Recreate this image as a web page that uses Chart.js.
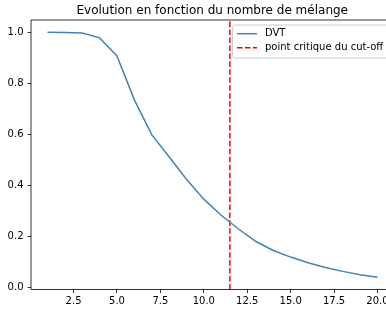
<!DOCTYPE html>
<html><head><meta charset="utf-8">
<script src="https://cdn.jsdelivr.net/npm/chart.js@4/dist/chart.umd.min.js"></script>
<style>
html,body{margin:0;padding:0;background:#fff;overflow:hidden;}
#c{display:block;}
</style></head>
<body>
<canvas id="c" width="386" height="314" style="width:386px;height:314px;"></canvas>
<script>
const titleText = "Evolution en fonction du nombre de mélange";
const xValues = [1,2,3,4,5,6,7,8,9,10,11,12,13,14,15,16,17,18,19,20];
const dvtValues = [1.0,0.999,0.997,0.978,0.907,0.735,0.599,0.512,0.424,0.346,0.283,0.229,0.18,0.145,0.119,0.097,0.078,0.063,0.05,0.04];
const cutoffX = 11.5;
const seriesLabels = ["DVT","point critique du cut-off"];
const xTicks = [2.5,5.0,7.5,10.0,12.5,15.0,17.5,20.0];
const yTicks = [0.0,0.2,0.4,0.6,0.8,1.0];
const xRange = [0.05,20.49];
const yRange = [-0.008,1.048];

const FONT = "'DejaVu Sans', sans-serif";

const spinesLegendTitle = {
  id:'extras',
  beforeDatasetsDraw(chart){
    const ctx = chart.ctx, a = chart.chartArea;
    ctx.save();
    ctx.fillStyle = '#fff';
    ctx.fillRect(a.left + 1, a.top + 1, chart.width - a.left, a.bottom - a.top - 2);
    ctx.restore();
  },
  afterDraw(chart){
    const ctx = chart.ctx, a = chart.chartArea;
    ctx.save();
    ctx.strokeStyle = '#000'; ctx.lineWidth = 0.8;
    ctx.beginPath();
    ctx.moveTo(a.left, a.top); ctx.lineTo(chart.width, a.top);
    ctx.moveTo(a.left, a.bottom); ctx.lineTo(chart.width, a.bottom);
    ctx.moveTo(a.left, a.top); ctx.lineTo(a.left, a.bottom);
    ctx.stroke();
    ctx.fillStyle = '#000';
    ctx.font = '12px ' + FONT;
    ctx.textAlign = 'center'; ctx.textBaseline = 'alphabetic';
    ctx.fillText(titleText, 212.25, a.top - 6.5);
    const bx = 232.5, by = 25, bw = 156, bh = 33, r = 2.5;
    ctx.beginPath();
    ctx.moveTo(bx+r, by); ctx.lineTo(bx+bw-r, by); ctx.arcTo(bx+bw, by, bx+bw, by+r, r);
    ctx.lineTo(bx+bw, by+bh-r); ctx.arcTo(bx+bw, by+bh, bx+bw-r, by+bh, r);
    ctx.lineTo(bx+r, by+bh); ctx.arcTo(bx, by+bh, bx, by+bh-r, r);
    ctx.lineTo(bx, by+r); ctx.arcTo(bx, by, bx+r, by, r);
    ctx.closePath();
    ctx.fillStyle = 'rgba(255,255,255,0.8)'; ctx.fill();
    ctx.strokeStyle = '#cccccc'; ctx.lineWidth = 1; ctx.stroke();
    const ds = chart.data.datasets;
    const rows = [33.7, 47.7];
    ds.forEach((d,i)=>{
      ctx.beginPath();
      ctx.strokeStyle = d.borderColor; ctx.lineWidth = d.borderWidth;
      ctx.setLineDash(d.borderDash || []);
      ctx.moveTo(237, rows[i]); ctx.lineTo(257, rows[i]); ctx.stroke();
      ctx.setLineDash([]);
      ctx.fillStyle = '#000'; ctx.font = '10px ' + FONT;
      ctx.textAlign = 'left'; ctx.textBaseline = 'middle';
      ctx.fillText(d.label, 265, rows[i]);
    });
    ctx.restore();
  }
};

new Chart(document.getElementById('c'), {
  type:'line',
  data:{
    datasets:[
      {label: seriesLabels[0], data: xValues.map((x,i)=>({x, y: dvtValues[i]})),
       borderColor:'#4682b4', borderWidth:1.5, pointRadius:0, tension:0, fill:false},
      {label: seriesLabels[1], data:[{x:cutoffX,y:yRange[0]},{x:cutoffX,y:yRange[1]}],
       borderColor:'#ff0000', borderWidth:1.5, borderDash:[5.55,2.4], pointRadius:0, fill:false}
    ]
  },
  options:{
    responsive:false, maintainAspectRatio:false, animation:false,
    devicePixelRatio:1,
    layout:{padding:{top:20, right:0, left:0, bottom:0}},
    plugins:{legend:{display:false}, title:{display:false}, tooltip:{enabled:false}},
    scales:{
      x:{type:'linear', min:xRange[0], max:xRange[1],
         afterBuildTicks(s){ s.ticks = xTicks.map(v=>({value:v})); },
         afterFit(s){ s.height = 24.5; s.paddingRight = 0; },
         grid:{drawOnChartArea:false, drawTicks:true, tickLength:3.5, color:'#000', lineWidth:0.8},
         border:{display:false},
         ticks:{font:{family:FONT,size:10}, color:'#000', padding:2, maxRotation:0, autoSkip:false,
                callback:(v)=>Number(v).toFixed(1)}},
      y:{type:'linear', min:yRange[0], max:yRange[1],
         afterBuildTicks(s){ s.ticks = yTicks.map(v=>({value:v})); },
         afterFit(s){ s.width = 31; },
         grid:{drawOnChartArea:false, drawTicks:true, tickLength:3.5, color:'#000', lineWidth:0.8},
         border:{display:false},
         ticks:{font:{family:FONT,size:10}, color:'#000', padding:4, autoSkip:false,
                callback:(v)=>Number(v).toFixed(1)}}
    }
  },
  plugins:[spinesLegendTitle]
});
</script>
</body></html>
